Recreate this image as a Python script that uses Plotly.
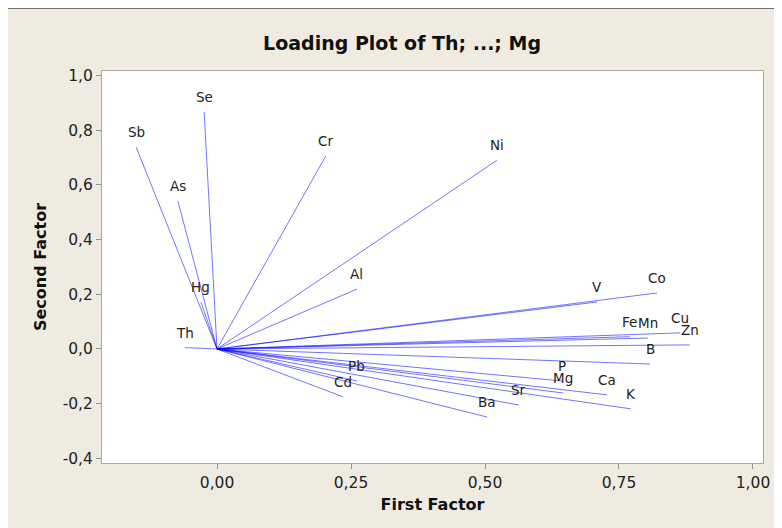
import plotly.graph_objects as go

variables = ["Th", "Sb", "Se", "As", "Hg", "Cr", "Ni", "Al", "V", "Co", "Fe", "Mn",
             "Cu", "Zn", "B", "Pb", "Cd", "P", "Mg", "Ca", "K", "Sr", "Ba"]
first_factor = [-0.060, -0.151, -0.024, -0.073, -0.030, 0.203, 0.522, 0.261, 0.709, 0.821, 0.770, 0.804,
                0.864, 0.882, 0.808, 0.261, 0.235, 0.644, 0.646, 0.728, 0.772, 0.563, 0.504]
second_factor = [0.005, 0.739, 0.867, 0.541, 0.172, 0.706, 0.690, 0.219, 0.172, 0.205, 0.045, 0.040,
                 0.059, 0.015, -0.055, -0.117, -0.175, -0.117, -0.161, -0.168, -0.219, -0.205, -0.249]

x_ticks = [0.0, 0.25, 0.5, 0.75, 1.0]
x_tick_text = ["0,00", "0,25", "0,50", "0,75", "1,00"]
y_ticks = [-0.4, -0.2, 0.0, 0.2, 0.4, 0.6, 0.8, 1.0]
y_tick_text = ["-0,4", "-0,2", "0,0", "0,2", "0,4", "0,6", "0,8", "1,0"]

FONT = "DejaVu Sans"
BG = "#EFEBE1"

fig = go.Figure()
for name, fx, fy in zip(variables, first_factor, second_factor):
    fig.add_trace(go.Scatter(x=[0, fx], y=[0, fy], mode="lines",
                             line=dict(color="rgba(0,0,255,0.55)", width=1),
                             hoverinfo="skip", showlegend=False))
    fig.add_annotation(x=fx, y=fy, text=name, showarrow=False, yshift=15,
                       font=dict(family=FONT, size=13.5, color="#222222"))

axis_common = dict(showgrid=False, zeroline=False, showline=True, linecolor="#A8A8A8",
                   linewidth=1, mirror=True, ticks="outside", ticklen=5, tickcolor="#909090",
                   tickfont=dict(family=FONT, size=15.5, color="#222222"))

fig.update_layout(
    width=782, height=528,
    paper_bgcolor=BG, plot_bgcolor="white",
    margin=dict(l=94, r=27, t=63, b=73),
    title=dict(text="<b>Loading Plot of Th; ...; Mg</b>", x=0.454, xanchor="center",
               xref="paper", y=1 - 35 / 528, yanchor="middle",
               font=dict(family=FONT, size=19, color="#111111")),
    xaxis=dict(range=[-0.2146, 1.0187], tickvals=x_ticks, ticktext=x_tick_text,
               title=dict(text="<b>First Factor</b>", standoff=8,
                          font=dict(family=FONT, size=16, color="#111111")),
               **axis_common),
    yaxis=dict(range=[-0.417, 1.0168], tickvals=y_ticks, ticktext=y_tick_text,
               title=dict(text="<b>Second Factor</b>", standoff=12,
                          font=dict(family=FONT, size=16, color="#111111")),
               **axis_common),
    shapes=[dict(type="line", xref="paper", yref="paper", x0=-0.2, x1=1.1,
                 y0=1 + 63 / 392, y1=1 + 63 / 392, line=dict(color="#707070", width=2))],
)

fig.write_html("out.html")
